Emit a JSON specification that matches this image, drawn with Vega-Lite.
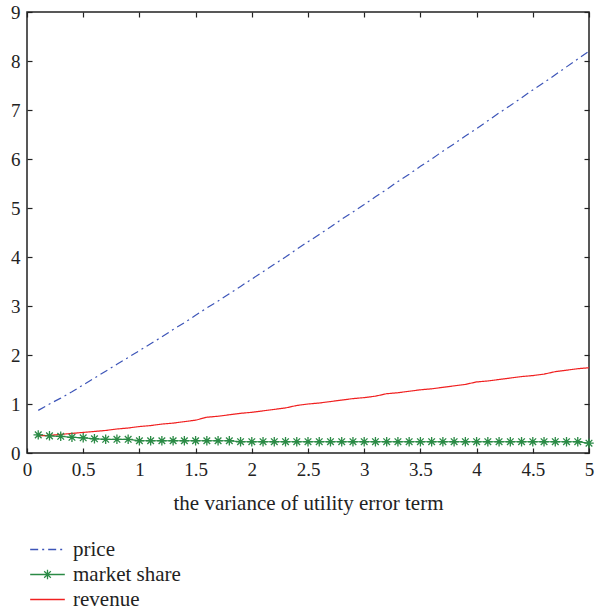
{
  "$schema": "https://vega.github.io/schema/vega-lite/v6.json",
  "width": 562,
  "height": 441,
  "autosize": "none",
  "padding": {"left": 27, "top": 12, "right": 6, "bottom": 163},
  "config": {
    "font": "Liberation Serif",
    "view": {"stroke": "#222", "strokeWidth": 1.5},
    "axis": {
      "grid": false,
      "domain": false,
      "tickColor": "#222",
      "tickWidth": 1.2,
      "tickSize": -5,
      "format": "~g",
      "labelFont": "Liberation Serif",
      "labelFontSize": 19,
      "labelColor": "#222",
      "titleFont": "Liberation Serif",
      "titleFontSize": 21,
      "titleFontWeight": "normal",
      "titleColor": "#222"
    }
  },
  "data": {
    "values": [
      {"x": 0.1, "price": 0.87, "market share": 0.37, "revenue": 0.35},
      {"x": 0.2, "price": 1.00, "market share": 0.35, "revenue": 0.36},
      {"x": 0.3, "price": 1.12, "market share": 0.34, "revenue": 0.38},
      {"x": 0.4, "price": 1.25, "market share": 0.32, "revenue": 0.40},
      {"x": 0.5, "price": 1.39, "market share": 0.31, "revenue": 0.42},
      {"x": 0.6, "price": 1.53, "market share": 0.29, "revenue": 0.44},
      {"x": 0.7, "price": 1.67, "market share": 0.28, "revenue": 0.46},
      {"x": 0.8, "price": 1.81, "market share": 0.28, "revenue": 0.49},
      {"x": 0.9, "price": 1.95, "market share": 0.28, "revenue": 0.51},
      {"x": 1.0, "price": 2.09, "market share": 0.25, "revenue": 0.54},
      {"x": 1.1, "price": 2.23, "market share": 0.25, "revenue": 0.56},
      {"x": 1.2, "price": 2.37, "market share": 0.25, "revenue": 0.59},
      {"x": 1.3, "price": 2.52, "market share": 0.25, "revenue": 0.61},
      {"x": 1.4, "price": 2.66, "market share": 0.25, "revenue": 0.64},
      {"x": 1.5, "price": 2.81, "market share": 0.25, "revenue": 0.67},
      {"x": 1.6, "price": 2.96, "market share": 0.25, "revenue": 0.73},
      {"x": 1.7, "price": 3.10, "market share": 0.25, "revenue": 0.75},
      {"x": 1.8, "price": 3.25, "market share": 0.25, "revenue": 0.78},
      {"x": 1.9, "price": 3.40, "market share": 0.23, "revenue": 0.81},
      {"x": 2.0, "price": 3.55, "market share": 0.23, "revenue": 0.83},
      {"x": 2.1, "price": 3.70, "market share": 0.23, "revenue": 0.86},
      {"x": 2.2, "price": 3.85, "market share": 0.23, "revenue": 0.89},
      {"x": 2.3, "price": 4.00, "market share": 0.23, "revenue": 0.92},
      {"x": 2.4, "price": 4.16, "market share": 0.23, "revenue": 0.97},
      {"x": 2.5, "price": 4.31, "market share": 0.23, "revenue": 1.00},
      {"x": 2.6, "price": 4.46, "market share": 0.23, "revenue": 1.02},
      {"x": 2.7, "price": 4.61, "market share": 0.23, "revenue": 1.05},
      {"x": 2.8, "price": 4.77, "market share": 0.23, "revenue": 1.08},
      {"x": 2.9, "price": 4.92, "market share": 0.23, "revenue": 1.11},
      {"x": 3.0, "price": 5.07, "market share": 0.23, "revenue": 1.13},
      {"x": 3.1, "price": 5.23, "market share": 0.23, "revenue": 1.16},
      {"x": 3.2, "price": 5.38, "market share": 0.23, "revenue": 1.21},
      {"x": 3.3, "price": 5.54, "market share": 0.23, "revenue": 1.23},
      {"x": 3.4, "price": 5.69, "market share": 0.23, "revenue": 1.26},
      {"x": 3.5, "price": 5.85, "market share": 0.23, "revenue": 1.29},
      {"x": 3.6, "price": 6.00, "market share": 0.23, "revenue": 1.31},
      {"x": 3.7, "price": 6.16, "market share": 0.23, "revenue": 1.34},
      {"x": 3.8, "price": 6.31, "market share": 0.23, "revenue": 1.37},
      {"x": 3.9, "price": 6.47, "market share": 0.23, "revenue": 1.40},
      {"x": 4.0, "price": 6.62, "market share": 0.23, "revenue": 1.45},
      {"x": 4.1, "price": 6.78, "market share": 0.23, "revenue": 1.47},
      {"x": 4.2, "price": 6.94, "market share": 0.23, "revenue": 1.50},
      {"x": 4.3, "price": 7.09, "market share": 0.23, "revenue": 1.53},
      {"x": 4.4, "price": 7.25, "market share": 0.23, "revenue": 1.56},
      {"x": 4.5, "price": 7.41, "market share": 0.23, "revenue": 1.58},
      {"x": 4.6, "price": 7.56, "market share": 0.23, "revenue": 1.61},
      {"x": 4.7, "price": 7.72, "market share": 0.23, "revenue": 1.66},
      {"x": 4.8, "price": 7.88, "market share": 0.23, "revenue": 1.69},
      {"x": 4.9, "price": 8.04, "market share": 0.23, "revenue": 1.72},
      {"x": 5.0, "price": 8.20, "market share": 0.20, "revenue": 1.74}
    ]
  },
  "transform": [
    {"fold": ["price", "market share", "revenue"], "as": ["series", "value"]}
  ],
  "layer": [
    {
      "mark": {"type": "line", "strokeWidth": 1.2, "clip": true},
      "encoding": {
        "x": {
          "field": "x", "type": "quantitative",
          "scale": {"domain": [0, 5], "nice": false},
          "axis": {
            "orient": "bottom",
            "values": [0, 0.5, 1, 1.5, 2, 2.5, 3, 3.5, 4, 4.5, 5],
            "labelPadding": 12,
            "title": "the variance of utility error term",
            "titlePadding": 13,
            "labelFlush": false
          }
        },
        "y": {
          "field": "value", "type": "quantitative",
          "scale": {"domain": [0, 9], "nice": false},
          "axis": {
            "orient": "left",
            "values": [0, 1, 2, 3, 4, 5, 6, 7, 8, 9],
            "labelPadding": 12,
            "title": null,
            "labelFlush": false
          }
        },
        "color": {
          "field": "series", "type": "nominal",
          "scale": {
            "domain": ["price", "market share", "revenue"],
            "range": ["#3d55b8", "#2a8a45", "#f02020"]
          },
          "legend": {
            "title": null,
            "orient": "none",
            "legendX": 10,
            "legendY": 527,
            "direction": "vertical",
            "symbolSize": 300,
            "symbolStrokeWidth": 1.3,
            "labelFont": "Liberation Serif",
            "labelFontSize": 21,
            "labelColor": "#222",
            "labelOffset": 15,
            "rowPadding": 3,
            "padding": 0,
            "encode": {
              "symbols": {
                "update": {
                  "shape": {"signal": "datum.value === 'market share' ? 'M-2,0L2,0M-0.5,0L0.5,0M0,-0.55L0,0.55M-0.38,-0.38L0.38,0.38M-0.38,0.38L0.38,-0.38' : 'M-2,0L2,0'"}
                }
              }
            }
          }
        },
        "strokeDash": {
          "field": "series", "type": "nominal",
          "scale": {
            "domain": ["price", "market share", "revenue"],
            "range": [[8, 4, 2, 4], [1, 0], [1, 0]]
          },
          "legend": null
        }
      }
    },
    {
      "transform": [{"filter": "datum.series === 'market share'"}],
      "mark": {
        "type": "point",
        "shape": "M-1,0L1,0M0,-1L0,1M-0.7,-0.7L0.7,0.7M-0.7,0.7L0.7,-0.7",
        "size": 90,
        "filled": false,
        "strokeWidth": 1.3,
        "color": "#2a8a45",
        "opacity": 1
      },
      "encoding": {
        "x": {
          "field": "x", "type": "quantitative",
          "scale": {"domain": [0, 5], "nice": false},
          "axis": {
            "orient": "top",
            "values": [0, 0.5, 1, 1.5, 2, 2.5, 3, 3.5, 4, 4.5, 5],
            "labels": false,
            "title": null
          }
        },
        "y": {
          "field": "value", "type": "quantitative",
          "scale": {"domain": [0, 9], "nice": false},
          "axis": {
            "orient": "right",
            "values": [0, 1, 2, 3, 4, 5, 6, 7, 8, 9],
            "labels": false,
            "title": null
          }
        }
      }
    }
  ],
  "resolve": {"axis": {"x": "independent", "y": "independent"}}
}
